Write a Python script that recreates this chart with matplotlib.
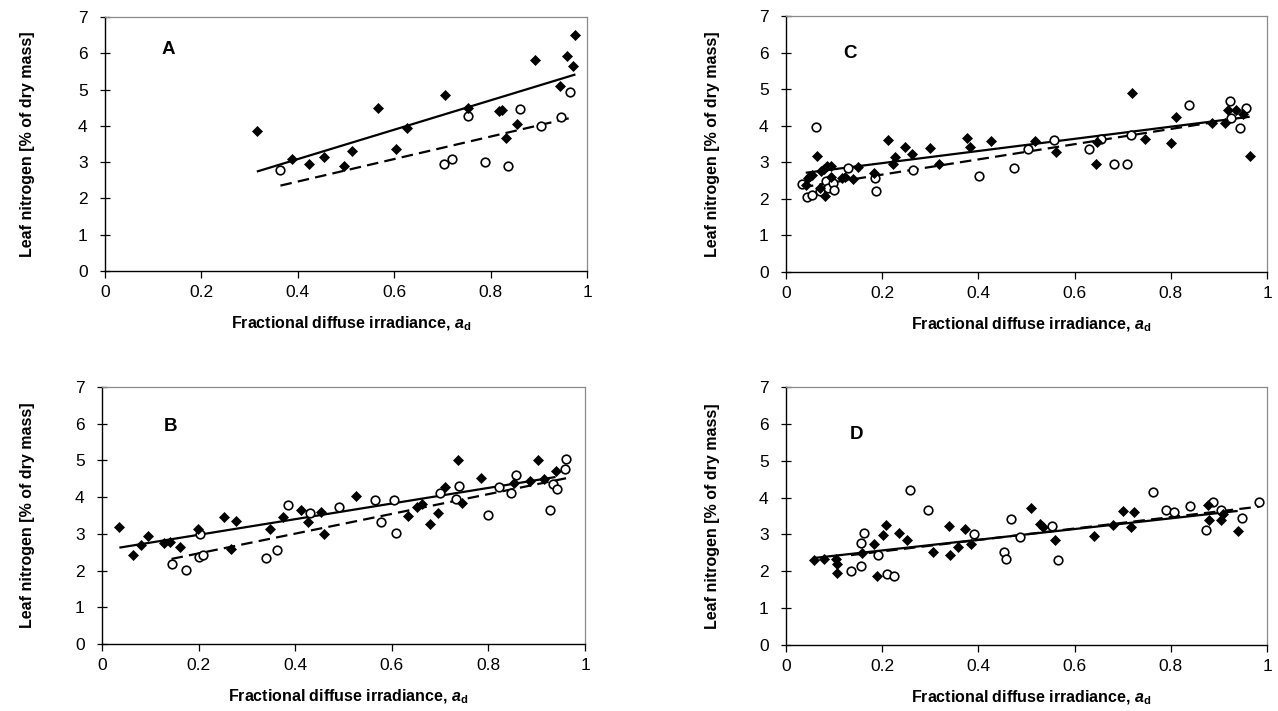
import numpy as np
import matplotlib
matplotlib.use('Agg')
import matplotlib.pyplot as plt

plt.rcParams['font.family'] = ['Liberation Sans', 'DejaVu Sans']
plt.rcParams['mathtext.fontset'] = 'custom'
plt.rcParams['mathtext.rm'] = 'Liberation Sans'
plt.rcParams['mathtext.it'] = 'Liberation Sans:italic'
plt.rcParams['mathtext.bf'] = 'Liberation Sans:bold'
if 'mathtext.bfit' in plt.rcParams:
    plt.rcParams['mathtext.bfit'] = 'Liberation Sans:italic:bold'

# ---------------- data ----------------
x_ticks = [0, 0.2, 0.4, 0.6, 0.8, 1]
x_tick_labels = ['0', '0.2', '0.4', '0.6', '0.8', '1']
y_ticks = [0, 1, 2, 3, 4, 5, 6, 7]
y_tick_labels = ['0', '1', '2', '3', '4', '5', '6', '7']
panel_letters = ['A', 'B', 'C', 'D']
x_label = r'Fractional diffuse irradiance, $\mathbfit{a}_{\mathbf{d}}$'
y_label = 'Leaf nitrogen [% of dry mass]'

# Panel A
A_filled_x = [0.315, 0.387, 0.424, 0.455, 0.496, 0.513, 0.567, 0.604, 0.627, 0.706,
              0.754, 0.818, 0.823, 0.832, 0.854, 0.893, 0.943, 0.958, 0.970, 0.976]
A_filled_y = [3.85, 3.08, 2.96, 3.15, 2.89, 3.32, 4.48, 3.35, 3.94, 4.85,
              4.48, 4.41, 4.43, 3.66, 4.04, 5.81, 5.10, 5.92, 5.64, 6.50]
A_open_x = [0.364, 0.703, 0.720, 0.754, 0.789, 0.836, 0.862, 0.904, 0.947, 0.965]
A_open_y = [2.77, 2.96, 3.09, 4.28, 3.00, 2.90, 4.46, 3.99, 4.25, 4.93]
A_fit_filled = (1.464, 4.05)   # intercept, slope
A_fit_open = (1.225, 3.10)

# Panel B
B_filled_x = [0.036, 0.065, 0.081, 0.095, 0.128, 0.141, 0.162, 0.199, 0.252, 0.277,
              0.268, 0.347, 0.374, 0.413, 0.427, 0.454, 0.460, 0.526, 0.634, 0.652,
              0.662, 0.680, 0.695, 0.711, 0.738, 0.745, 0.785, 0.853, 0.886, 0.903,
              0.915, 0.939]
B_filled_y = [3.18, 2.43, 2.69, 2.93, 2.75, 2.77, 2.63, 3.13, 3.45, 3.35,
              2.60, 3.13, 3.46, 3.65, 3.32, 3.60, 3.00, 4.04, 3.49, 3.74,
              3.81, 3.26, 3.58, 4.28, 5.02, 3.85, 4.53, 4.38, 4.44, 5.02,
              4.50, 4.71]
B_open_x = [0.144, 0.174, 0.201, 0.210, 0.203, 0.339, 0.362, 0.386, 0.430, 0.490,
            0.566, 0.578, 0.604, 0.609, 0.699, 0.733, 0.739, 0.800, 0.821, 0.847,
            0.857, 0.928, 0.934, 0.941, 0.959, 0.961]
B_open_y = [2.17, 2.01, 2.36, 2.42, 2.99, 2.33, 2.55, 3.78, 3.56, 3.73,
            3.92, 3.33, 3.92, 3.03, 4.10, 3.95, 4.30, 3.51, 4.28, 4.11,
            4.59, 3.65, 4.35, 4.22, 4.76, 5.03]
B_fit_filled = (2.548, 2.13)
B_fit_open = (1.93, 2.69)

# Panel C
C_filled_x = [0.041, 0.046, 0.049, 0.054, 0.064, 0.071, 0.073, 0.079, 0.082, 0.086,
              0.093, 0.094, 0.117, 0.123, 0.139, 0.149, 0.183, 0.213, 0.222, 0.227,
              0.248, 0.262, 0.299, 0.319, 0.376, 0.383, 0.426, 0.518, 0.561, 0.644,
              0.647, 0.720, 0.747, 0.800, 0.810, 0.886, 0.913, 0.918, 0.936, 0.951,
              0.964]
C_filled_y = [2.39, 2.57, 2.62, 2.64, 3.18, 2.31, 2.77, 2.82, 2.07, 2.90,
              2.91, 2.61, 2.58, 2.61, 2.53, 2.88, 2.72, 3.60, 2.95, 3.15,
              3.43, 3.23, 3.39, 2.95, 3.66, 3.41, 3.58, 3.57, 3.28, 2.96,
              3.55, 4.89, 3.64, 3.52, 4.23, 4.08, 4.08, 4.43, 4.43, 4.33,
              3.18]
C_open_x = [0.033, 0.043, 0.054, 0.063, 0.070, 0.083, 0.088, 0.098, 0.100, 0.128,
            0.185, 0.188, 0.265, 0.402, 0.475, 0.503, 0.557, 0.630, 0.655, 0.681,
            0.708, 0.718, 0.838, 0.924, 0.925, 0.944, 0.957]
C_open_y = [2.40, 2.05, 2.11, 3.97, 2.21, 2.48, 2.31, 2.43, 2.25, 2.85,
            2.58, 2.21, 2.80, 2.62, 2.85, 3.37, 3.60, 3.37, 3.65, 2.96,
            2.96, 3.74, 4.58, 4.68, 4.21, 3.93, 4.48]
C_fit_filled = (2.645, 1.66)
C_fit_open = (2.247, 2.08)

# Panel D
D_filled_x = [0.059, 0.078, 0.104, 0.107, 0.107, 0.157, 0.182, 0.190, 0.201, 0.207,
              0.235, 0.252, 0.305, 0.339, 0.340, 0.358, 0.372, 0.385, 0.509, 0.529,
              0.535, 0.560, 0.641, 0.679, 0.700, 0.718, 0.723, 0.877, 0.879, 0.904,
              0.909, 0.939]
D_filled_y = [2.30, 2.32, 2.33, 2.21, 1.95, 2.49, 2.73, 1.87, 2.99, 3.26,
              3.04, 2.85, 2.51, 3.22, 2.44, 2.65, 3.14, 2.73, 3.73, 3.27,
              3.20, 2.85, 2.96, 3.26, 3.63, 3.20, 3.60, 3.81, 3.38, 3.38,
              3.56, 3.10]
D_open_x = [0.135, 0.155, 0.156, 0.163, 0.192, 0.210, 0.224, 0.257, 0.296, 0.391,
            0.454, 0.457, 0.467, 0.486, 0.553, 0.565, 0.763, 0.791, 0.807, 0.840,
            0.873, 0.888, 0.904, 0.949, 0.984]
D_open_y = [2.01, 2.15, 2.76, 3.05, 2.44, 1.93, 1.86, 4.20, 3.67, 3.00,
            2.52, 2.34, 3.41, 2.93, 3.23, 2.31, 4.14, 3.65, 3.60, 3.76,
            3.13, 3.88, 3.65, 3.44, 3.88]
D_fit_filled = (2.276, 1.45)
D_fit_open = (2.23, 1.55)

# ---------------- layout ----------------
W, H = 1278, 711
fig = plt.figure(figsize=(W / 100, H / 100), dpi=100)

def rect(left, top, right, bottom):
    return [left / W, 1 - bottom / H, (right - left) / W, (bottom - top) / H]

panels = {
    'A': dict(rect=rect(105, 17, 587, 271), fx=A_filled_x, fy=A_filled_y, ox=A_open_x, oy=A_open_y,
              ff=A_fit_filled, fo=A_fit_open, lab=(0.131, 6.1), ylx=28),
    'B': dict(rect=rect(102, 387, 585, 644), fx=B_filled_x, fy=B_filled_y, ox=B_open_x, oy=B_open_y,
              ff=B_fit_filled, fo=B_fit_open, lab=(0.142, 5.93), ylx=28),
    'C': dict(rect=rect(786, 16, 1267, 272), fx=C_filled_x, fy=C_filled_y, ox=C_open_x, oy=C_open_y,
              ff=C_fit_filled, fo=C_fit_open, lab=(0.133, 5.97), ylx=713),
    'D': dict(rect=rect(786, 387, 1267, 645), fx=D_filled_x, fy=D_filled_y, ox=D_open_x, oy=D_open_y,
              ff=D_fit_filled, fo=D_fit_open, lab=(0.146, 5.7), ylx=713),
}

for name in panel_letters:
    p = panels[name]
    ax = fig.add_axes(p['rect'])
    ax.set_xlim(0, 1)
    ax.set_ylim(0, 7)

    # regression lines over the data range of each series
    fx = np.array(p['fx']); ox = np.array(p['ox'])
    xs = np.array([fx.min(), fx.max()])
    ax.plot(xs, p['ff'][0] + p['ff'][1] * xs, color='black', lw=1.6, zorder=2,
            solid_capstyle='butt')
    xo = np.array([ox.min(), ox.max()])
    ax.plot(xo, p['fo'][0] + p['fo'][1] * xo, color='black', lw=1.6, zorder=2,
            linestyle=(0, (5.2, 2.8)), dash_capstyle='butt')

    ax.plot(p['ox'], p['oy'], linestyle='none', marker='o', ms=6.2, mfc='white',
            mec='black', mew=1.2, zorder=3)
    ax.plot(p['fx'], p['fy'], linestyle='none', marker='D', ms=5.4, mfc='black',
            mec='black', mew=0.5, zorder=4)

    ax.text(p['lab'][0], p['lab'][1], name, fontsize=13.5, fontweight='bold',
            ha='center', va='center')

    ax.set_xticks(x_ticks)
    ax.set_xticklabels(x_tick_labels)
    ax.set_yticks(y_ticks)
    ax.set_yticklabels(y_tick_labels)
    ax.tick_params(axis='x', direction='out', length=5, width=0.9, pad=5, labelsize=12.5)
    ax.tick_params(axis='y', direction='inout', length=7, width=0.9, pad=9, labelsize=12.5)

    for s in ['left', 'bottom']:
        ax.spines[s].set_color('black')
        ax.spines[s].set_linewidth(1.0)
    for s in ['top', 'right']:
        ax.spines[s].set_color('#8a8a8a')
        ax.spines[s].set_linewidth(0.9)

    ax.set_xlabel(x_label, fontsize=11.5, fontweight='bold', va='center')
    ax.xaxis.set_label_coords(0.51, -53 / (p['rect'][3] * H))
    ax.set_ylabel(y_label, fontsize=11.5, fontweight='bold', va='center')
    ax.yaxis.set_label_coords(-(p['rect'][0] * W - p['ylx']) / (p['rect'][2] * W), 0.5)

fig.savefig('out.png', dpi=100)
